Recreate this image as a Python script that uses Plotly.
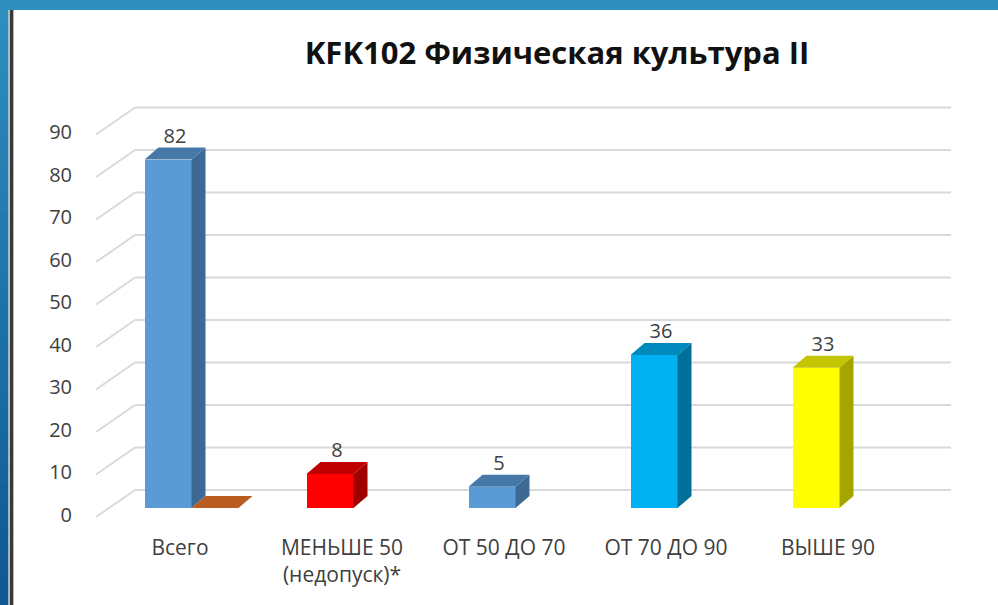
import plotly.graph_objects as go

# ---------------- data ----------------
categories = ["Всего", "МЕНЬШЕ 50<br>(недопуск)*", "ОТ 50 ДО 70", "ОТ 70 ДО 90", "ВЫШЕ 90"]
values = [82, 8, 5, 36, 33]
second_series = [0, None, None, None, None]
y_ticks = [0, 10, 20, 30, 40, 50, 60, 70, 80, 90]
title_text = "KFK102 Физическая культура II"

front_colors = ["#5B9BD5", "#FF0000", "#5B9BD5", "#00B0F0", "#FFFF00"]
side_colors = ["#3D6A94", "#A00000", "#3D6A94", "#00709A", "#A5A500"]
top_colors = ["#4678A8", "#C00000", "#4678A8", "#0089BC", "#C4C400"]
second_top = "#B85C20"

# ---------------- geometry (pixels -> axis units) ----------------
W, H = 998, 605
ML, MR, MT, MB = 80, 38, 95, 72
PX_PER_CAT = 162.0
PX_PER_UNIT = 4.25
CAT0_PX = 180.0
BAR_ZERO_PX = 508.0


def px_to_x(px):
    return (px - CAT0_PX) / PX_PER_CAT


x_range = [px_to_x(ML), px_to_x(W - MR)]
y_range = [-(H - MB - BAR_ZERO_PX) / PX_PER_UNIT, (BAR_ZERO_PX - MT) / PX_PER_UNIT]

DX = 14 / PX_PER_CAT          # depth offset in x
DY = 12 / PX_PER_UNIT         # depth offset in y
BW = 47 / PX_PER_CAT          # bar width
BAR_SHIFT = -12 / PX_PER_CAT  # front face centre relative to category
LABEL_SHIFT = 1.6             # tick-label plane below the bar plane
FRONT_OFF = -9 / PX_PER_UNIT  # floor front edge
BACK_OFF = 18 / PX_PER_UNIT   # back wall
X_FRONT = px_to_x(96)
X_BACK = px_to_x(135)
X_RIGHT = px_to_x(951)

fig = go.Figure()
shapes = []

# gridlines (back wall + side diagonals), drawn below the bars
for t in y_ticks:
    shapes.append(dict(type="line", xref="x", yref="y", x0=X_FRONT, y0=t + FRONT_OFF,
                       x1=X_BACK, y1=t + BACK_OFF, line=dict(color="#D9D9D9", width=2), layer="below"))
    shapes.append(dict(type="line", xref="x", yref="y", x0=X_BACK, y0=t + BACK_OFF,
                       x1=X_RIGHT, y1=t + BACK_OFF, line=dict(color="#D9D9D9", width=2), layer="below"))

# front faces
xc = [i + BAR_SHIFT for i in range(len(values))]
fig.add_trace(go.Bar(x=xc, y=values, width=BW, marker=dict(color=front_colors, line=dict(width=0)),
                     showlegend=False, hoverinfo="y"))


def add_poly(xs, ys, color):
    fig.add_trace(go.Scatter(x=xs + [xs[0]], y=ys + [ys[0]], mode="lines", fill="toself",
                             fillcolor=color, line=dict(width=0, color=color),
                             hoverinfo="skip", showlegend=False))


for i, v in enumerate(values):
    xl = xc[i] - BW / 2
    xr = xc[i] + BW / 2
    add_poly([xr, xr + DX, xr + DX, xr], [0, DY, v + DY, v], side_colors[i])
    add_poly([xl, xr, xr + DX, xl + DX], [v, v, v + DY, v + DY], top_colors[i])

# second series (zero height -> only top face visible)
for i, v in enumerate(second_series):
    if v is None:
        continue
    xl = xc[i] + BW / 2
    xr = xl + BW
    add_poly([xl, xr, xr + DX, xl + DX], [v, v, v + DY, v + DY], second_top)

# data labels
fig.add_trace(go.Scatter(x=[x + DX / 2 for x in xc], y=[v + DY for v in values],
                         text=[str(v) for v in values], mode="text", textposition="top center",
                         textfont=dict(family="Open Sans", size=20, color="#404040"),
                         hoverinfo="skip", showlegend=False))

# invisible trace for the label axis
fig.add_trace(go.Scatter(x=[x_range[0]] * len(y_ticks), y=y_ticks, yaxis="y2", mode="markers",
                         marker=dict(opacity=0), hoverinfo="skip", showlegend=False))


# frame decoration
def xp(px):
    return (px - ML) / (W - ML - MR)


def yp(py):
    return 1 - (py - MT) / (H - MT - MB)


n = 40
c0 = (0x2E, 0x8E, 0xBF)
c1 = (0x0D, 0x5A, 0x92)
for k in range(n):
    f = k / (n - 1)
    col = "rgb(%d,%d,%d)" % tuple(round(a + (b - a) * f) for a, b in zip(c0, c1))
    shapes.append(dict(type="rect", xref="paper", yref="paper", x0=xp(0), x1=xp(8.5),
                       y0=yp(k * H / n), y1=yp((k + 1) * H / n + 1), fillcolor=col,
                       line=dict(width=0), layer="below"))
shapes.append(dict(type="rect", xref="paper", yref="paper", x0=xp(0), x1=xp(W), y0=yp(0), y1=yp(10),
                   fillcolor="#2E8FBF", line=dict(width=0), layer="below"))
shapes.append(dict(type="rect", xref="paper", yref="paper", x0=xp(8.5), x1=xp(14), y0=yp(10), y1=yp(H),
                   fillcolor="#B8B8B8", line=dict(width=0), layer="below"))
shapes.append(dict(type="rect", xref="paper", yref="paper", x0=xp(10), x1=xp(13), y0=yp(10), y1=yp(H),
                   fillcolor="#3A3A3A", line=dict(width=0), layer="below"))

fig.update_layout(
    width=W, height=H, autosize=False,
    margin=dict(l=ML, r=MR, t=MT, b=MB),
    paper_bgcolor="white", plot_bgcolor="white",
    shapes=shapes,
    title=dict(text="<b>" + title_text + "</b>", x=xp(557), xref="paper", xanchor="center",
               y=1 - 53 / H, yref="container", yanchor="middle",
               font=dict(family="Open Sans", size=31, color="#111111")),
    xaxis=dict(range=x_range, showgrid=False, zeroline=False, showline=False,
               tickmode="array", tickvals=list(range(len(categories))), ticktext=categories,
               tickfont=dict(family="Open Sans", size=21, color="#404040"), ticks=""),
    yaxis=dict(range=y_range, showgrid=False, zeroline=False, showline=False,
               showticklabels=False, ticks=""),
    yaxis2=dict(range=[y_range[0] + LABEL_SHIFT, y_range[1] + LABEL_SHIFT], overlaying="y",
                side="left", anchor="x", showgrid=False, zeroline=False, showline=False,
                tickmode="array", tickvals=y_ticks, ticks="", ticklabelstandoff=7,
                tickfont=dict(family="Open Sans", size=20, color="#404040")),
    bargap=0,
)

fig.write_html("out.html", config={"displayModeBar": False},
               post_script="document.body.style.margin='0';document.body.style.padding='0';")
